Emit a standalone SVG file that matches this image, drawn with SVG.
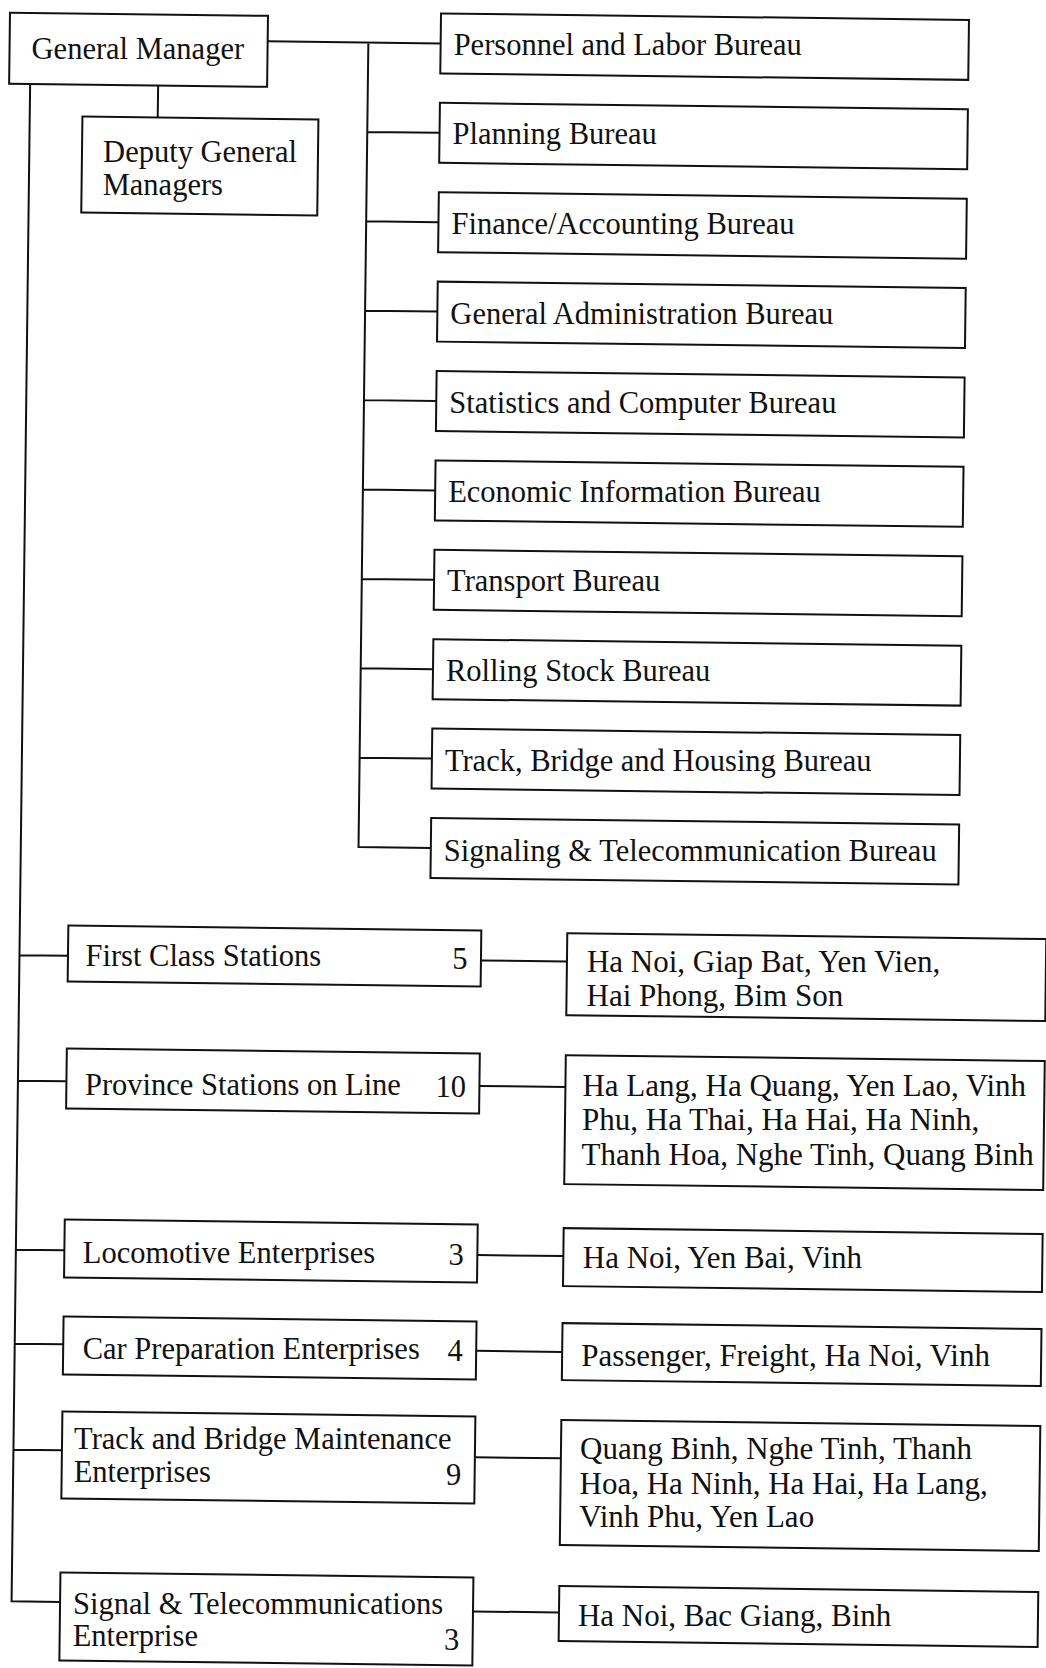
<svg xmlns="http://www.w3.org/2000/svg" width="1046" height="1668" viewBox="0 0 1046 1668">
<style>
.box{fill:#fff;stroke:#111;stroke-width:2}
.c{fill:none;stroke:#111;stroke-width:2}
.t{font-family:"Liberation Serif","Times New Roman",serif;font-size:30.5px;fill:#111}
.r{font-size:31px}
.n{text-anchor:end}
</style>
<rect x="0" y="0" width="1046" height="1668" fill="#fff"/>
<g transform="rotate(0.7 523 834)">
<g id="connectors">
<path class="c" d="M258 44.5H431M358.7 44.5V849.1H431M358.7 133.9H431M358.7 223.3H431M358.7 312.7H431M358.7 402.1H431M358.7 491.5H431M358.7 580.9H431M358.7 670.3H431M358.7 759.7H431"/>
<path class="c" d="M149 90V122"/>
<path class="c" d="M21 90V1607.5H69.5M21 961.4H69.5M21 1086.9H69.5M21 1255.9H69.5M21 1349.9H69.5M21 1455.9H69.5"/>
<path class="c" d="M482.5 961H568.5M482.5 1086.5H568.5M482.5 1255.6H568.5M482.5 1351.4H568.5M482.5 1457.8H568.5M482.5 1612H568.5"/>
</g>
<g id="n-general-manager"><rect class="box" x="0" y="19" width="258" height="71"/><text class="t" x="22" y="63.3" transform="rotate(-0.7 128 53)">General Manager</text></g>
<g id="n-deputy"><rect class="box" x="73.7" y="122" width="236" height="96"/><text class="t" x="94.8" y="165.6" transform="rotate(-0.7 192 156)">Deputy General</text><text class="t" x="94.8" y="199.6" transform="rotate(-0.7 155 190)">Managers</text></g>
<g id="b-personnel"><rect class="box" x="431" y="14.5" width="528" height="60"/><text class="t" x="444" y="54" transform="rotate(-0.7 618 44)">Personnel and Labor Bureau</text></g>
<g id="b-planning"><rect class="box" x="431" y="103.9" width="528" height="60"/><text class="t" x="444" y="143.4" transform="rotate(-0.7 546 133)">Planning Bureau</text></g>
<g id="b-finance"><rect class="box" x="431" y="193.3" width="528" height="60"/><text class="t" x="444" y="232.8" transform="rotate(-0.7 615 223)">Finance/Accounting Bureau</text></g>
<g id="b-genadmin"><rect class="box" x="431" y="282.7" width="528" height="60"/><text class="t" x="444" y="322.2" transform="rotate(-0.7 636 312)">General Administration Bureau</text></g>
<g id="b-statistics"><rect class="box" x="431" y="372.1" width="528" height="60"/><text class="t" x="444" y="411.6" transform="rotate(-0.7 638 402)">Statistics and Computer Bureau</text></g>
<g id="b-economic"><rect class="box" x="431" y="461.5" width="528" height="60"/><text class="t" x="444" y="501" transform="rotate(-0.7 631 491)">Economic Information Bureau</text></g>
<g id="b-transport"><rect class="box" x="431" y="550.9" width="528" height="60"/><text class="t" x="444" y="590.4" transform="rotate(-0.7 563 580)">Transport Bureau</text></g>
<g id="b-rolling"><rect class="box" x="431" y="640.3" width="528" height="60"/><text class="t" x="444" y="679.8" transform="rotate(-0.7 584 670)">Rolling Stock Bureau</text></g>
<g id="b-track"><rect class="box" x="431" y="729.7" width="528" height="60"/><text class="t" x="444" y="769.2" transform="rotate(-0.7 660 759)">Track, Bridge and Housing Bureau</text></g>
<g id="b-signaling"><rect class="box" x="431" y="819.1" width="528" height="60"/><text class="t" x="444" y="858.6" transform="rotate(-0.7 695 849)">Signaling &amp; Telecommunication Bureau</text></g>
<g id="u-first"><rect class="box" x="69.5" y="931" width="413" height="56"/><text class="t" x="87" y="970" transform="rotate(-0.7 205 960)">First Class Stations</text><text class="t n" x="469" y="970" transform="rotate(-0.7 461 960)">5</text></g>
<g id="u-province"><rect class="box" x="69.5" y="1054" width="413" height="60"/><text class="t" x="88" y="1098" transform="rotate(-0.7 246 1088)">Province Stations on Line</text><text class="t n" x="469" y="1098" transform="rotate(-0.7 454 1088)">10</text></g>
<g id="u-loco"><rect class="box" x="69.5" y="1225" width="413" height="58"/><text class="t" x="88" y="1266" transform="rotate(-0.7 246 1256)">Locomotive Enterprises</text><text class="t n" x="469" y="1266" transform="rotate(-0.7 461 1256)">3</text></g>
<g id="u-car"><rect class="box" x="69.5" y="1322" width="413" height="58"/><text class="t" x="89" y="1362" transform="rotate(-0.7 281 1352)">Car Preparation Enterprises</text><text class="t n" x="469" y="1362" transform="rotate(-0.7 461 1352)">4</text></g>
<g id="u-trackbridge"><rect class="box" x="69.5" y="1417" width="413" height="87"/><text class="t" x="81.5" y="1452" transform="rotate(-0.7 271 1442)">Track and Bridge Maintenance</text><text class="t" x="81.5" y="1486" transform="rotate(-0.7 160 1476)">Enterprises</text><text class="t n" x="469" y="1486" transform="rotate(-0.7 461 1476)">9</text></g>
<g id="u-signal"><rect class="box" x="69.5" y="1578" width="413" height="88"/><text class="t" x="82.5" y="1617" transform="rotate(-0.7 272 1607)">Signal &amp; Telecommunications</text><text class="t" x="82.5" y="1651" transform="rotate(-0.7 154 1641)">Enterprise</text><text class="t n" x="469" y="1651" transform="rotate(-0.7 461 1641)">3</text></g>
<g id="l-first"><rect class="box" x="568.5" y="932.6" width="479" height="82"/><text class="t r" x="588.5" y="969" transform="rotate(-0.7 780 959)">Ha Noi, Giap Bat, Yen Vien,</text><text class="t r" x="588.5" y="1003.5" transform="rotate(-0.7 722 993)">Hai Phong, Bim Son</text></g>
<g id="l-province"><rect class="box" x="568.5" y="1054.6" width="479" height="129"/><text class="t r" x="585.5" y="1092" transform="rotate(-0.7 811 1082)">Ha Lang, Ha Quang, Yen Lao, Vinh</text><text class="t r" x="585.5" y="1126.5" transform="rotate(-0.7 780 1116)">Phu, Ha Thai, Ha Hai, Ha Ninh,</text><text class="t r" x="585.5" y="1161" transform="rotate(-0.7 812 1151)">Thanh Hoa, Nghe Tinh, Quang Binh</text></g>
<g id="l-loco"><rect class="box" x="568.5" y="1227.6" width="479" height="58"/><text class="t r" x="588" y="1265.3" transform="rotate(-0.7 729 1255)">Ha Noi, Yen Bai, Vinh</text></g>
<g id="l-car"><rect class="box" x="568.5" y="1322.6" width="479" height="57"/><text class="t r" x="587.5" y="1362.3" transform="rotate(-0.7 795 1352)">Passenger, Freight, Ha Noi, Vinh</text></g>
<g id="l-trackbridge"><rect class="box" x="568.5" y="1419.6" width="479" height="125"/><text class="t r" x="587.5" y="1456" transform="rotate(-0.7 784 1446)">Quang Binh, Nghe Tinh, Thanh</text><text class="t r" x="587.5" y="1490.5" transform="rotate(-0.7 789 1480)">Hoa, Ha Ninh, Ha Hai, Ha Lang,</text><text class="t r" x="587.5" y="1525" transform="rotate(-0.7 710 1515)">Vinh Phu, Yen Lao</text></g>
<g id="l-signal"><rect class="box" x="568.5" y="1585.6" width="479" height="55"/><text class="t r" x="587.5" y="1623.3" transform="rotate(-0.7 745 1613)">Ha Noi, Bac Giang, Binh</text></g>
</g>
</svg>
